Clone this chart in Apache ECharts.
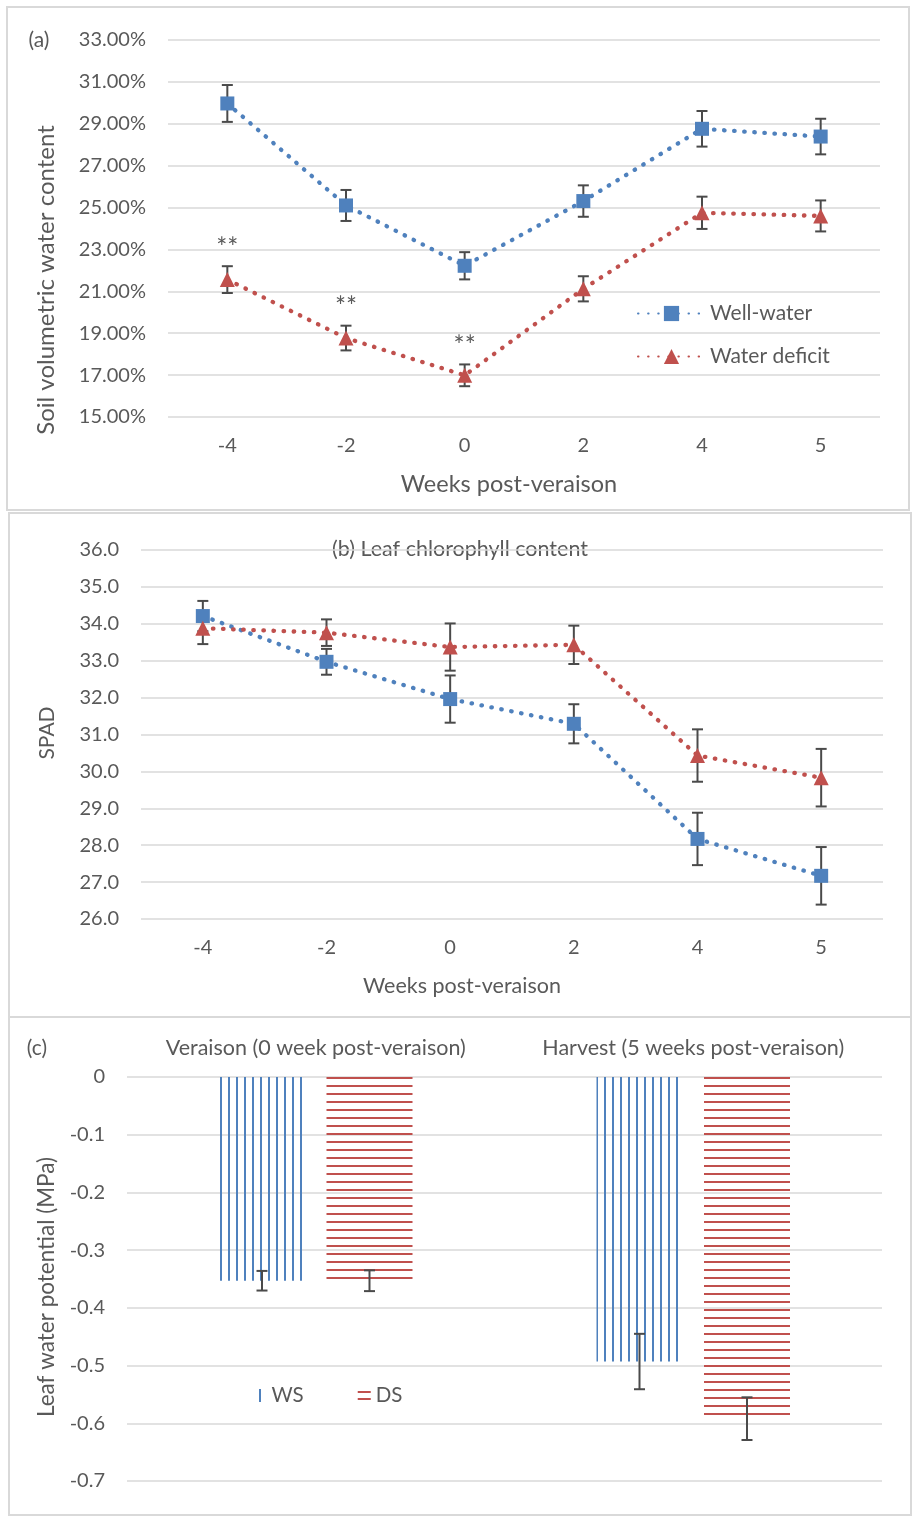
<!DOCTYPE html>
<html>
<head>
<meta charset="utf-8">
<script src="https://cdn.jsdelivr.net/npm/echarts@6/dist/echarts.min.js"></script>
<style>
  html, body { margin: 0; padding: 0; background: #ffffff; }
  #chart { width: 913px; height: 1517px; }
</style>
</head>
<body>
<div id="chart"></div>
<script>
// ---- data ----
const weeks = ['-4', '-2', '0', '2', '4', '5'];

// (a) soil volumetric water content, %
const swcWell = [29.97, 25.10, 22.22, 25.31, 28.76, 28.39];
const swcWellErr = [0.88, 0.74, 0.65, 0.75, 0.85, 0.85];
const swcDeficit = [21.56, 18.77, 16.99, 21.12, 24.75, 24.60];
const swcDeficitErr = [0.64, 0.59, 0.52, 0.60, 0.77, 0.74];
const swcSignif = ['**', '**', '**', '', '', ''];

// (b) leaf chlorophyll content, SPAD
const spadWell = [34.21, 32.97, 31.96, 31.29, 28.17, 27.17];
const spadWellErr = [0.41, 0.35, 0.64, 0.53, 0.71, 0.78];
const spadDeficit = [33.88, 33.76, 33.37, 33.43, 30.43, 29.83];
const spadDeficitErr = [0.43, 0.36, 0.64, 0.52, 0.71, 0.78];

// (c) leaf water potential, MPa
const stages = ['Veraison (0 week post-veraison)', 'Harvest (5 weeks post-veraison)'];
const lwpWS = [-0.353, -0.493];
const lwpWSErr = [0.017, 0.048];
const lwpDS = [-0.353, -0.592];
const lwpDSErr = [0.018, 0.037];

// ---- styling ----
const FONT = 'Lato';
const TXT = '#595959';
const GRIDC = '#d9d9d9';
const BLUE = '#4F81BD';
const RED = '#C0504D';
const ERR = '#4a4a4a';
const BAR_W = 86;
const BAR_GAP = 0.25;
const TICK_FS = 20;

function errData(means, errs) {
  return means.map((m, i) => [i, m - errs[i], m + errs[i]]);
}

// vertical error bar with caps; optional text above the upper cap
function errorBar(offsetPx, marks) {
  return function (params, api) {
    const i = api.value(0);
    const lo = api.coord([i, api.value(1)]);
    const hi = api.coord([i, api.value(2)]);
    const x = lo[0] + offsetPx;
    const cap = 5.5;
    const st = { stroke: ERR, lineWidth: 2 };
    const children = [
      { type: 'line', shape: { x1: x, y1: hi[1], x2: x, y2: lo[1] }, style: st },
      { type: 'line', shape: { x1: x - cap, y1: hi[1], x2: x + cap, y2: hi[1] }, style: st },
      { type: 'line', shape: { x1: x - cap, y1: lo[1], x2: x + cap, y2: lo[1] }, style: st }
    ];
    const m = marks && marks[params.dataIndex];
    if (m) {
      children.push({
        type: 'text',
        style: { text: m, x: x, y: hi[1] - 18, fill: TXT, fontFamily: FONT, fontSize: 26,
                 align: 'center', verticalAlign: 'middle' }
      });
    }
    return { type: 'group', children: children };
  };
}

function stripes(vertical, color) {
  const c = document.createElement('canvas');
  c.width = 8; c.height = 8;
  const g = c.getContext('2d');
  g.fillStyle = color;
  if (vertical) g.fillRect(4, 0, 2, 8); else g.fillRect(0, 5, 8, 2);
  return c;
}

const dotted = (color) => ({ color: color, width: 4.3, type: [0.5, 9.6], cap: 'round' });

function lineSeries(name, data, symbol, size, color, axis) {
  return {
    type: 'line', name: name, data: data, xAxisIndex: axis, yAxisIndex: axis,
    symbol: symbol, symbolSize: size, showSymbol: true,
    itemStyle: { color: color }, lineStyle: dotted(color),
    emphasis: { disabled: true }, z: 3
  };
}

function errSeries(name, data, axis, offset, marks) {
  return {
    type: 'custom', name: name, data: data, xAxisIndex: axis, yAxisIndex: axis,
    renderItem: errorBar(offset || 0, marks), z: 2, silent: true
  };
}

const catAxis = (grid, data, extra) => Object.assign({
  type: 'category', gridIndex: grid, data: data,
  axisLine: { show: false }, axisTick: { show: false },
  axisLabel: { color: TXT, fontFamily: FONT, fontSize: TICK_FS, margin: 19, interval: 0 }
}, extra || {});

const valAxis = (grid, min, max, interval, fmt) => ({
  type: 'value', gridIndex: grid, min: min, max: max, interval: interval,
  axisLine: { show: false }, axisTick: { show: false },
  axisLabel: { color: TXT, fontFamily: FONT, fontSize: TICK_FS, margin: 22, formatter: fmt },
  splitLine: { lineStyle: { color: GRIDC, width: 1.5 } }
});

const txt = (text, x, y, size, rot) => ({
  type: 'text', x: x, y: y, rotation: rot || 0, silent: true,
  style: { text: text, fill: TXT, fontFamily: FONT, fontSize: size, align: 'center', verticalAlign: 'middle' }
});

const frame = (x, y, w, h) => ({
  type: 'rect', shape: { x: x, y: y, width: w, height: h }, silent: true, z: -10,
  style: { fill: null, stroke: GRIDC, lineWidth: 2 }
});

const halfStep = (BAR_W * (1 + BAR_GAP)) / 2;

const option = {
  animation: false,
  backgroundColor: '#ffffff',
  textStyle: { fontFamily: FONT },
  grid: [
    { left: 168, top: 40, width: 712, height: 377 },
    { left: 141, top: 550, width: 742, height: 369 },
    { left: 127, top: 1077, width: 755, height: 404 }
  ],
  xAxis: [
    catAxis(0, weeks),
    catAxis(1, weeks),
    catAxis(2, stages, {
      position: 'top',
      axisLabel: { color: TXT, fontFamily: FONT, fontSize: 21.5, margin: 18, interval: 0, hideOverlap: false }
    })
  ],
  yAxis: [
    valAxis(0, 15, 33, 2, v => v.toFixed(2) + '%'),
    valAxis(1, 26, 36, 1, v => v.toFixed(1)),
    valAxis(2, -0.7, 0, 0.1, v => { const r = Math.round(v * 10) / 10; return r === 0 ? '0' : r.toFixed(1); })
  ],
  legend: [
    {
      data: ['Well-water', 'Water deficit'], orient: 'vertical', left: 632, top: 298,
      itemWidth: 67, itemHeight: 19, itemGap: 22, selectedMode: false,
      textStyle: { color: TXT, fontFamily: FONT, fontSize: 21 }
    },
    {
      data: [
        { name: 'WS', icon: 'path://M0,0h2v13h-2z', itemStyle: { color: BLUE } },
        { name: 'DS', icon: 'path://M0,0h13v2h-13zM0,7h13v2h-13z', itemStyle: { color: RED } }
      ],
      orient: 'horizontal', left: 254, top: 1380, itemWidth: 13, itemHeight: 13, itemGap: 54,
      selectedMode: false,
      textStyle: { color: TXT, fontFamily: FONT, fontSize: 20.5 }
    }
  ],
  series: [
    // (a)
    errSeries('swc-well-err', errData(swcWell, swcWellErr), 0),
    errSeries('swc-deficit-err', errData(swcDeficit, swcDeficitErr), 0, 0, swcSignif),
    lineSeries('Well-water', swcWell, 'rect', 14, BLUE, 0),
    lineSeries('Water deficit', swcDeficit, 'triangle', 15, RED, 0),
    // (b)
    errSeries('spad-well-err', errData(spadWell, spadWellErr), 1),
    errSeries('spad-deficit-err', errData(spadDeficit, spadDeficitErr), 1),
    lineSeries('Well-water', spadWell, 'rect', 14, BLUE, 1),
    lineSeries('Water deficit', spadDeficit, 'triangle', 15, RED, 1),
    // (c)
    {
      type: 'bar', name: 'WS', data: lwpWS, xAxisIndex: 2, yAxisIndex: 2,
      barWidth: BAR_W, barGap: (BAR_GAP * 100) + '%',
      itemStyle: { color: { image: stripes(true, BLUE), repeat: 'repeat' } },
      emphasis: { disabled: true }, z: 2
    },
    {
      type: 'bar', name: 'DS', data: lwpDS, xAxisIndex: 2, yAxisIndex: 2,
      barWidth: BAR_W, barGap: (BAR_GAP * 100) + '%',
      itemStyle: { color: { image: stripes(false, RED), repeat: 'repeat' } },
      emphasis: { disabled: true }, z: 2
    },
    Object.assign(errSeries('lwp-ws-err', errData(lwpWS, lwpWSErr), 2, -halfStep), { z: 4 }),
    Object.assign(errSeries('lwp-ds-err', errData(lwpDS, lwpDSErr), 2, halfStep), { z: 4 })
  ],
  graphic: [
    frame(7, 7, 902, 503),
    frame(9, 513, 902, 504),
    frame(9, 1017, 902, 498),
    txt('(a)', 39, 40, 21),
    txt('Soil volumetric water content', 46, 280, 24, Math.PI / 2),
    txt('Weeks post-veraison', 509, 484, 23.5),
    txt('(b) Leaf chlorophyll content', 460, 549, 21.5),
    txt('SPAD', 47, 733, 21, Math.PI / 2),
    txt('Weeks post-veraison', 462, 986, 21.5),
    txt('(c)', 37, 1048, 21),
    txt('Leaf water potential (MPa)', 47, 1287, 22.5, Math.PI / 2)
  ]
};

const chart = echarts.init(document.getElementById('chart'), null, { renderer: 'canvas' });
chart.setOption(option);
</script>
</body>
</html>
